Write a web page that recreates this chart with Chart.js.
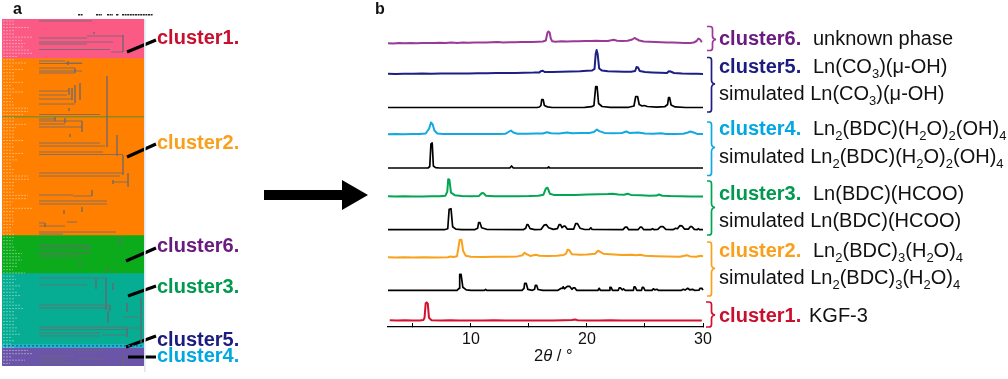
<!DOCTYPE html>
<html><head><meta charset="utf-8">
<script src="https://cdn.jsdelivr.net/npm/chart.js@4"></script>
<style>
html,body{margin:0;padding:0;background:#fff;width:1008px;height:379px;overflow:hidden}
#wrap{position:relative;width:1008px;height:379px;filter:blur(.35px)}
.holder{position:absolute}
.holder canvas{display:block}
svg{position:absolute;left:0;top:0;font-family:"Liberation Sans",Arial,sans-serif;font-size:20px;fill:#111}
.b{font-weight:700}
</style></head><body>
<div id="wrap">
<div class="holder" style="left:2px;top:19px;width:142px;height:347px"><canvas id="bands" width="142" height="347" style="width:142px;height:347px"></canvas></div>
<div class="holder" style="left:0;top:0;width:260px;height:379px"><canvas id="tree" width="260" height="379" style="width:260px;height:379px"></canvas></div>
<div class="holder" style="left:370px;top:0;width:350px;height:379px"><canvas id="right" width="350" height="379" style="width:350px;height:379px"></canvas></div>
<svg width="1008" height="379" viewBox="0 0 1008 379">
<text x="13" y="14" class="b" font-size="16">a</text>
<text x="375" y="14" class="b" font-size="16">b</text>
<path d="M264 190H342V180L368 195L342 210V200H264Z" fill="#000"/>
<g fill="none" stroke-width="1.7">
<path stroke="#9b3a96" d="M707 26.5h3q2.500 0 2.500 2.500v7q0 3 3.500 3.500q-3.500 .5 -3.500 3.500v5q0 2.500 -2.500 2.500h-3"/>
<path stroke="#1d1f85" d="M707 57.500h2q2.500 0 2.500 2.500v20q0 3.500 3.500 4q-3.500 .5 -3.500 4v21.500q0 2.500 -2.500 2.500h-2"/>
<path stroke="#12a9e0" d="M707 122h2q2.500 0 2.500 2.500v19q0 3.500 3.500 4q-3.500 .5 -3.500 4v21.500q0 2.500 -2.500 2.500h-2"/>
<path stroke="#00a651" d="M707 181h2q2.500 0 2.500 2.500v20q0 3.500 3.500 4q-3.500 .5 -3.500 4v21q0 2.500 -2.500 2.500h-2"/>
<path stroke="#f9a11b" d="M707 242h2q2.500 0 2.500 2.500v20q0 3.500 3.500 4q-3.500 .5 -3.500 4v21q0 2.500 -2.500 2.500h-2"/>
<path stroke="#d4112f" d="M706 302h3q2.500 0 2.500 2.500v7q0 3 3.500 3.500q-3.500 .5 -3.500 3.500v6q0 2.500 -2.500 2.500h-3"/>
</g>
<g class="b">
<text x="157" y="44" fill="#c8102e">cluster1.</text>
<text x="157" y="149" fill="#f9a01b">cluster2.</text>
<text x="157" y="252" fill="#6a1b80">cluster6.</text>
<text x="157" y="293" fill="#00994f">cluster3.</text>
<text x="157" y="346" fill="#1b1b80">cluster5.</text>
<text x="157" y="362" fill="#00a7e1">cluster4.</text>
<text x="719" y="45" fill="#6a1b80">cluster6.</text>
<text x="719" y="73" fill="#1b1b80">cluster5.</text>
<text x="719" y="135" fill="#00a7e1">cluster4.</text>
<text x="719" y="200" fill="#00994f">cluster3.</text>
<text x="719" y="257" fill="#f9a01b">cluster2.</text>
<text x="719" y="322" fill="#c8102e">cluster1.</text>
</g>
<text x="813" y="45">unknown phase</text>
<text x="813" y="73">Ln(CO<tspan dy="5" font-size="13">3</tspan><tspan dy="-5">)(μ-OH)</tspan></text>
<text x="719" y="100">simulated Ln(CO<tspan dy="5" font-size="13">3</tspan><tspan dy="-5">)(μ-OH)</tspan></text>
<text x="813" y="135">Ln<tspan dy="5" font-size="13">2</tspan><tspan dy="-5">(BDC)(H</tspan><tspan dy="5" font-size="13">2</tspan><tspan dy="-5">O)</tspan><tspan dy="5" font-size="13">2</tspan><tspan dy="-5">(OH)</tspan><tspan dy="5" font-size="13">4</tspan></text>
<text x="719" y="163">simulated Ln<tspan dy="5" font-size="13">2</tspan><tspan dy="-5">(BDC)(H</tspan><tspan dy="5" font-size="13">2</tspan><tspan dy="-5">O)</tspan><tspan dy="5" font-size="13">2</tspan><tspan dy="-5">(OH)</tspan><tspan dy="5" font-size="13">4</tspan></text>
<text x="813" y="200">Ln(BDC)(HCOO)</text>
<text x="719" y="227">simulated Ln(BDC)(HCOO)</text>
<text x="813" y="257">Ln<tspan dy="5" font-size="13">2</tspan><tspan dy="-5">(BDC)</tspan><tspan dy="5" font-size="13">3</tspan><tspan dy="-5">(H</tspan><tspan dy="5" font-size="13">2</tspan><tspan dy="-5">O)</tspan><tspan dy="5" font-size="13">4</tspan></text>
<text x="719" y="284">simulated Ln<tspan dy="5" font-size="13">2</tspan><tspan dy="-5">(BDC)</tspan><tspan dy="5" font-size="13">3</tspan><tspan dy="-5">(H</tspan><tspan dy="5" font-size="13">2</tspan><tspan dy="-5">O)</tspan><tspan dy="5" font-size="13">4</tspan></text>
<text x="809" y="322">KGF-3</text>
<text x="534" y="361" font-size="16.500">2<tspan font-style="italic">θ</tspan> / °</text>
</svg>
</div>
<script>
// ---------- panel a: cluster bands and dendrogram ----------
const bandNames  = ["cluster1","cluster2","cluster6","cluster3","cluster5","cluster4"];
const bandSizes  = [39,177,38,71,3.5,18.5];
const bandColors = ["#fb5a85","#ff8000","#0cab1c","#07ad92","#22b6cc","#6a55a8"];
// dendrogram merges: [from, row, to]
const treeHorizontal = [
[39,21,92],[39,38,58],[58,38,87],[39,42,113],[39,44,87],[87,36,123],[39,49.500,110],[111,52,123],
[39,61,65],[39,63.500,82],[65,63,82],[39,68,75],[39,71,82],[39,73,75],
[39,91,69],[39,95,67],[39,99,72],[39,104,75],[39,114.500,100],
[39,119,55],[39,121,82],[39,124,65],[39,127,82],[39,143,100],[39,146,105],[39,152,103],[39,154.500,123],
[39,173,123],[39,176,120],[113,182,128],
[39,195,73],[73,196,92],[39,201,107],[39,204,107],[39,223,45],[39,226,65],[67,222,77],[39,232,116],[39,234,63],
[39,245.500,88],[39,248,90],[39,253,78],[39,256,78],[78,253,90],
[39,278,95],[95,278,106],[39,285,87],[39,305,110],[39,308,110],[123,317,138],
[39,327,127],[39,329.500,127],[127,328,139],[39,333,100],[39,336,100],[102,335,127],
[74,350.500,103],[39,356,65],[39,360,65],[65,356,75],[78,359,103],[39,363,77]
];
const treeVertical = [
[123,35,52],[94,32,34],
[68,61,65],[75,68,73],[107,76,147],[80,83,100],[75,85,103],[72,88,100],[69,88,95],[69,108,111],
[55,117,121],[82,121,132],[65,118,123],[70,134,137],[117,135,156],[123,155,175],[128,173,187],[113,180,184],
[92,190,196],[64,210,214],[82,207,212],[45,223,227],
[120,237,245],[88,246,250],[80,260,265],[108,268,272],
[96,279,289],[113,283,290],[106,278,310],[110,305,311],[108,311,323],[127,328,337],[141,297,343],[127,303,312],
[123,355,366]
];
// length of each leaf name, row by row
const leafEnds = [14,15,30,14,15,32,22,25,23,30,32,17,14,
 27,13,24,14,14,15,24,12,14,23,11,13,13,14,28,28,24,14,15,27,16,14,15,14,23,13,15,13,24,15,17,12,12,14,13,28,29,14,14,13,14,28,27,13,
 12,32,14,13,13,14,13,12,12,14,14,13,
 13,14,16,22,20,22,17,18,13,25,14,16,15,20,14,17,21,14,15,20,24,14,15,17,14,14,
 17,16,20,12,14,12,14,28,33,12,25,10,12];
const leaderLines = [[127,52,156,40],[127,157,156,144],[126,261,156,248],[128,296,156,286],[126,347,156,336],[128,357,156,357]];
const headerMarks = [[78,83],[96,102],[107,113],[116,119],[122,153]];

// ---------- panel b: diffraction patterns, [2theta, intensity] ----------
const patternPurple = [[2.85,.3],[3.3,.1],[3.8,.4],[4.3,.2],[4.8,.5],[5.3,.3],[5.8,.6],[6.3,.4],[6.8,.6],[7.3,.8],[7.8,.5],[8.3,.9],[8.8,.6],[9.3,1],[9.8,.8],[10.3,1.1],[10.8,.9],[11.3,1],[11.8,1.2],[12.3,1.4],[12.8,1.1],[13.3,1.3],[13.8,1.2],[14.3,1.5],[14.8,1.4],[15.3,1.6],[15.8,1.8],[16.2,2],[16.45,3],[16.6,11],[16.68,12],[16.78,11],[16.88,5],[17,2.2],[17.3,1.8],[17.8,2.2],[18.3,1.9],[18.8,2.3],[19.3,2.2],[19.8,2.6],[20.3,2.4],[20.8,2.8],[21.3,2.6],[21.8,2.5],[22.3,3.8],[22.6,2.7],[23,2.4],[23.5,2.8],[23.9,4],[24.1,5.5],[24.25,4.6],[24.5,3],[24.9,2],[25.4,1.8],[25.9,1.5],[26.4,1.3],[26.9,1],[27.4,1.1],[27.9,.8],[28.4,.5],[28.9,.4],[29.2,1],[29.45,2.5],[29.6,5],[29.75,4],[29.9,1.2]];
const patternNavy = [[2.85,.3],[3.5,.1],[4.2,.3],[5,.2],[5.8,.4],[6.6,.2],[7.4,.5],[8.2,.4],[9,.6],[9.8,.5],[10.6,.8],[11.4,.7],[12.2,1],[13,.9],[13.8,1.1],[14.6,1.3],[15.4,1.4],[15.9,1.6],[16.05,3],[16.2,3.2],[16.35,2],[17,2],[17.8,2.2],[18.6,2.5],[19.4,2.8],[20,3.2],[20.45,3.6],[20.65,5],[20.75,20],[20.83,24],[20.92,20],[21.05,5.5],[21.3,3.4],[21.8,2.8],[22.5,2.5],[23.2,2.2],[23.8,2.3],[24.15,3],[24.27,7],[24.4,6.5],[24.55,3],[25,2],[25.6,1.6],[26.3,1.2],[26.9,1],[27.05,2.8],[27.2,2.5],[27.5,1],[28.2,.5],[29,.3],[29.5,.2],[30,.1]];
const patternSimNavy = [[2.85,0],[15.7,0],[15.9,.5],[16.03,2],[16.1,8],[16.22,8],[16.33,2],[16.6,.6],[17,0],[19.8,.2],[20.4,.8],[20.6,2],[20.75,21],[20.87,21],[21,4],[21.3,1],[22,.2],[23.6,.2],[24.05,1.5],[24.2,11],[24.36,11],[24.5,3],[24.75,1.5],[24.95,2],[25.2,1],[26,.4],[26.7,.8],[26.95,3],[27.03,10],[27.12,10],[27.25,2.5],[27.6,.6],[28.5,0],[30,0]];
const patternBlue = [[2.85,.2],[3.5,.4],[4.2,.2],[5,.4],[5.6,.5],[6.1,1],[6.4,6],[6.55,12],[6.7,10],[6.85,4],[7.1,1],[7.6,.4],[8.4,.6],[9.2,.4],[10,.5],[10.8,.4],[11.6,.6],[12.4,.5],[13,.8],[13.3,3],[13.45,4],[13.65,2],[14,.8],[14.8,.7],[15.6,.9],[16.2,1],[16.55,2.2],[16.9,1.2],[17.6,1],[18.3,2],[18.7,1.3],[19.5,1.4],[20.2,1.6],[20.6,2.4],[20.85,5],[21.05,3.4],[21.5,1.6],[22.2,1.3],[23,1.5],[23.4,3],[23.7,1.4],[24.4,2],[25,1],[25.7,.7],[26.4,1.3],[26.8,.6],[27.6,.5],[28.3,.8],[28.7,2],[28.9,3],[29.2,2],[29.5,.6],[30,.4]];
const patternSimBlue = [[2.85,0],[6.3,0],[6.45,1.5],[6.55,24],[6.66,25],[6.76,2],[6.95,.4],[7.3,0],[13.35,0],[13.5,2],[13.65,0],[16.6,0],[16.7,1],[16.8,0],[30,0]];
const patternGreen = [[2.85,.5],[3.5,.3],[4.2,.5],[5,.3],[5.8,.2],[6.6,.4],[7.3,.5],[7.8,1],[7.96,5],[8.04,17.500],[8.14,17],[8.28,4],[8.6,1.5],[9.2,.6],[10,.5],[10.7,.8],[10.92,3.500],[11.05,3.800],[11.3,1],[12,.5],[13,.4],[14,.5],[15,.6],[15.8,1],[16.25,2],[16.45,8],[16.6,9],[16.8,3],[17.2,1.6],[18,1.6],[19,1.8],[20,2.2],[21,2.4],[21.8,2.6],[22.2,3],[22.7,2.1],[23.2,2],[23.5,3],[23.8,1.8],[24.6,1.4],[25.4,1],[26,1.1],[26.2,2.2],[26.5,1],[27.2,.6],[28,.5],[29,.2],[30,.2]];
const patternSimGreen = [[2.85,0],[7.7,0],[8,1],[8.12,20.500],[8.28,21],[8.42,3],[8.7,.6],[9.2,0],[10.3,0],[10.58,1.500],[10.66,7],[10.78,7],[10.92,2],[11.4,.2],[14.5,0],[14.72,1.500],[14.82,5],[14.92,5],[15.1,1],[15.5,0],[16.05,.4],[16.3,4.500],[16.5,5],[16.7,2],[17.1,.3],[17.45,1],[17.6,5],[17.72,5],[17.85,2],[18,3.500],[18.12,3.500],[18.3,.6],[18.85,.5],[19.02,6],[19.18,6],[19.4,1.500],[19.8,.2],[20.2,.2],[20.33,2],[20.45,.2],[23.1,0],[23.3,2.500],[23.45,2.500],[23.6,0],[24.4,0],[24.58,2.500],[24.72,2.500],[24.9,0],[25.5,0],[25.65,1],[25.8,0],[26.1,.3],[26.35,3],[26.55,3],[26.8,.3],[27.4,0],[27.65,1.500],[27.8,1],[28,4],[28.2,3.800],[28.4,.6],[28.75,.6],[28.9,3],[29.05,3],[29.25,.3],[29.5,.1],[29.6,1],[29.7,.1],[30,0]];
const patternOrange = [[2.85,.5],[3.5,.2],[4.3,.4],[5,.2],[6,.4],[7,.3],[8,.5],[8.25,1.200],[8.5,.7],[8.8,1.500],[8.95,12],[9.03,18],[9.18,18],[9.32,7],[9.55,2],[10,1],[11,.8],[12,.9],[13,1],[14,1.300],[14.45,2.500],[14.62,5],[14.8,3.500],[15.1,1.800],[15.6,3],[15.9,2],[16.6,1.800],[17.4,2],[18,2.800],[18.2,4],[18.33,8],[18.48,7.500],[18.7,3.500],[19.4,3],[20,3.200],[20.7,4],[20.95,7],[21.1,6],[21.4,4],[22,3.400],[23,2.600],[23.9,3],[24.2,2.400],[24.6,3],[25,2],[26,1.500],[27,1.200],[28,1],[28.6,2.400],[28.9,1.300],[29.4,.9],[29.8,2],[30,1.300]];
const patternSimOrange = [[2.85,0],[8.8,0],[8.97,2],[9.03,16],[9.15,16],[9.3,3],[9.6,.4],[10,0],[11.16,0],[11.26,1],[11.36,0],[14.4,0],[14.57,2],[14.63,7],[14.76,7],[14.9,1],[15.3,0],[15.48,1],[15.55,5],[15.66,5],[15.78,.8],[16.2,0],[17.5,0],[17.78,2],[17.88,2],[17.96,3.500],[18.05,1.500],[18.3,4],[18.5,4],[18.7,1],[18.82,2.500],[18.95,2.500],[19.1,0],[20.95,0],[21.05,2],[21.15,0],[21.9,0],[21.98,3],[22.08,3],[22.2,0],[22.7,0],[22.78,2.500],[22.88,2.500],[23.05,.5],[23.15,1.500],[23.3,0],[24,0],[24.06,3.500],[24.15,3.500],[24.3,0],[24.7,0],[24.77,3],[24.87,3],[25,0],[25.6,0],[25.72,1.500],[25.85,.4],[26.02,1],[26.15,0],[28.15,0],[28.3,1],[28.45,.2],[28.68,2],[28.85,.5],[29.1,1],[29.25,0],[29.65,.1],[29.75,2],[29.9,2],[30,.2]];
const patternRed = [[3,.4],[3.6,.2],[4.3,.4],[5,.2],[5.6,.3],[5.9,.6],[6,3],[6.1,17.500],[6.18,18.300],[6.28,17],[6.38,3],[6.6,.5],[7.4,.2],[8.2,.4],[9,.2],[10,.3],[11,.2],[12,.4],[13,.2],[14,.3],[15,.2],[16,.3],[17,.2],[18,.4],[18.7,.6],[18.97,1.100],[19.2,.5],[20,.3],[21,.2],[22,.4],[23,.2],[24,.3],[25,.2],[26,.3],[27,.2],[28,.3],[29,.2],[29.9,.1]];

const patternNames   = ["cluster6","cluster5","simulated cluster5","cluster4","simulated cluster4","cluster3","simulated cluster3","cluster2","simulated cluster2","cluster1"];
const patternValues  = [patternPurple,patternNavy,patternSimNavy,patternBlue,patternSimBlue,patternGreen,patternSimGreen,patternOrange,patternSimOrange,patternRed];
const patternOffsets = [283.5,253,219.5,192.5,159,130.3,97.3,69.3,36.7,6.3];
const patternColors  = ["#9b3a96","#1d1f85","#000","#12a9e0","#000","#00a651","#000","#f9a11b","#000","#d4112f"];

const font = '"Liberation Sans",Arial,sans-serif';
Chart.defaults.font.family = font;
Chart.defaults.animation = false;
Chart.defaults.responsive = false;

// segments -> one point list with gaps
function gaps(list){const p=[];list.forEach(s=>{p.push(s[0],s[1],{x:s[1].x,y:null});});return p;}
const seg=(x1,y1,x2,y2)=>[{x:x1,y:y1},{x:x2,y:y2}];
const lineBase={pointRadius:0,tension:0,clip:false,spanGaps:false,borderCapStyle:"butt"};
const off={legend:{display:false},tooltip:{enabled:false}};

new Chart(document.getElementById("bands"),{
 type:"bar",
 data:{labels:["dendrogram"],datasets:bandNames.map((n,i)=>({label:n,data:[bandSizes[i]],backgroundColor:bandColors[i],barPercentage:1,categoryPercentage:1,borderWidth:0}))},
 options:{plugins:off,scales:{
  x:{display:false,stacked:true},
  y:{display:false,stacked:true,reverse:true,min:0,max:347}
 }}
});

new Chart(document.getElementById("tree"),{
 type:"line",
 data:{datasets:[
  {...lineBase,label:"leaf names",data:gaps(leafEnds.map((e,i)=>seg(3,21+i*3.23,e,21+i*3.23))),borderColor:"rgba(255,255,255,.42)",borderWidth:.9,borderDash:[2,1]},
  {...lineBase,label:"merges",data:gaps(treeHorizontal.map(s=>seg(s[0],s[1],s[2],s[1]))),borderColor:"rgba(105,105,115,.8)",borderWidth:1},
  {...lineBase,label:"joins",data:gaps(treeVertical.map(s=>seg(s[0],s[1],s[0],s[2]))),borderColor:"rgba(105,105,115,.6)",borderWidth:1},
  {...lineBase,label:"separator",data:[{x:2,y:116.7},{x:144,y:116.7}],borderColor:"#8b8a1c",borderWidth:1.500},
  {...lineBase,label:"stripe",data:[{x:4,y:345.8},{x:144,y:345.8}],borderColor:"#0b6f9a",borderWidth:1.500,borderDash:[2,2]},
  {...lineBase,label:"edge",data:[{x:144.8,y:19},{x:144.8,y:372}],borderColor:"#dde6ee",borderWidth:1},
  {...lineBase,label:"leaders",data:gaps(leaderLines.map(s=>seg(s[0],s[1],s[2],s[3]))),borderColor:"#000",borderWidth:3.200},
  {...lineBase,label:"header",data:gaps(headerMarks.map(s=>seg(s[0],14.7,s[1],14.7))),borderColor:"#222",borderWidth:1.600,borderDash:[2,.6]}
 ]},
 options:{
  layout:{padding:{left:2,right:116,top:19,bottom:13}},
  plugins:off,
  scales:{
   x:{type:"linear",display:false,min:2,max:144},
   y:{type:"linear",display:false,reverse:true,min:19,max:366}
  }
 }
});

new Chart(document.getElementById("right"),{
 type:"line",
 data:{datasets:patternValues.map((v,i)=>({
  label:patternNames[i],
  data:v.map(p=>({x:p[0],y:p[1]+patternOffsets[i]})),
  borderColor:patternColors[i],borderWidth:patternColors[i]==="#000"?1.700:2,
  pointRadius:0,tension:0,borderJoinStyle:"round",clip:false
 }))},
 options:{
  layout:{padding:{left:18,right:17,top:0,bottom:0}},
  plugins:off,
  scales:{
   x:{type:"linear",min:2.85,max:30,position:"bottom",
      afterFit(s){s.height=52;},
      border:{display:true,color:"#000",width:1.300},
      grid:{drawOnChartArea:false,drawTicks:true,tickLength:-4,color:"#000",tickColor:"#000",tickWidth:1},
      ticks:{stepSize:5,includeBounds:false,autoSkip:false,maxRotation:0,padding:7,color:"#111",
             font:{size:16,family:font},callback:v=>v%10===0?String(v):""}},
   y:{type:"linear",display:false,min:0,max:327}
  }
 }
});
</script>
</body></html>
